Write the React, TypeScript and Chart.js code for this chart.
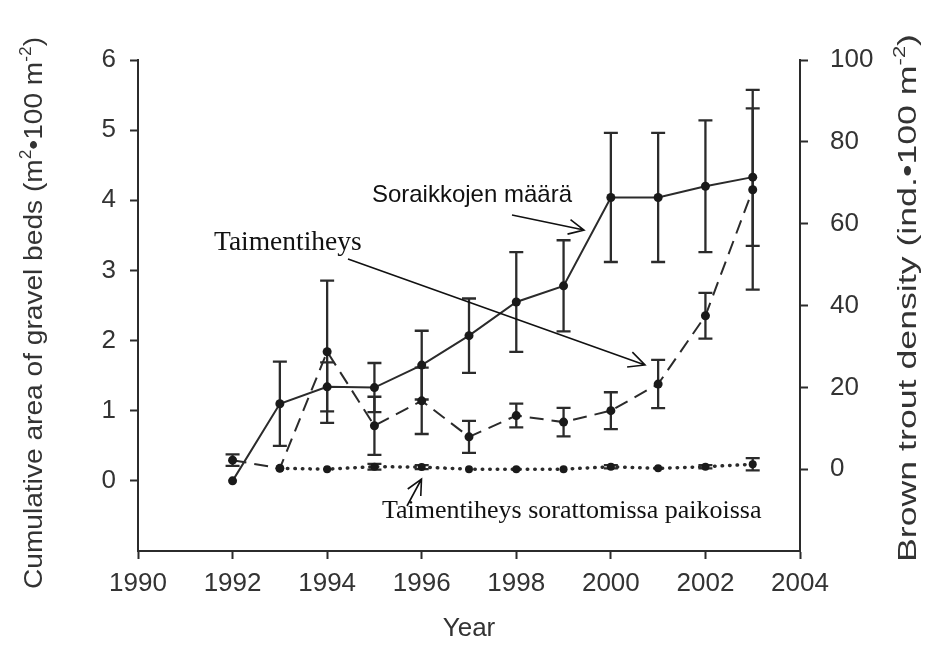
import React, { useEffect, useRef } from "react";
import { Chart, registerables } from "chart.js";

Chart.register(...registerables);

// ---- data ----
const years = [1992, 1993, 1994, 1995, 1996, 1997, 1998, 1999, 2000, 2001, 2002, 2003];
const gravelArea = [0, 1.1, 1.34, 1.33, 1.65, 2.07, 2.55, 2.78, 4.04, 4.04, 4.2, 4.33];
const gravelErr = [0, 0.6, 0.35, 0.35, 0.49, 0.53, 0.71, 0.65, 0.92, 0.92, 0.94, 0.98];
const troutDensity = [2.2, 0.2, 28.7, 10.6, 16.7, 7.9, 13.1, 11.5, 14.3, 20.8, 37.5, 68.3];
const troutErr = [1.4, 0, 17.4, 7.1, 8.1, 3.9, 2.9, 3.5, 4.5, 5.9, 5.6, 24.4];
const noGravelDensity = [null, 0.2, 0, 0.6, 0.5, 0, 0, 0, 0.6, 0.2, 0.6, 1.2];
const noGravelErr = [0, 0, 0, 0.7, 0.5, 0, 0, 0, 0.4, 0, 0.4, 1.5];

// axis titles as [text, isSuperscript] pieces
const leftTitle: [string, boolean][] = [
  ["Cumulative area of gravel beds (m", false],
  ["2", true],
  ["\u2022100 m", false],
  ["-2", true],
  [")", false],
];
const rightTitle: [string, boolean][] = [
  ["Brown trout density (ind.\u2022100 m", false],
  ["-2", true],
  [")", false],
];
const xTitle = "Year";
const labelGravel = "Soraikkojen määrä";
const labelTrout = "Taimentiheys";
const labelNoGravel = "Taimentiheys sorattomissa paikoissa";

const SANS = "'Liberation Sans', Arial, sans-serif";
const SERIF = "'Liberation Serif', 'Times New Roman', serif";
const INK = "#2b2b2b";

const errorBarPlugin = {
  id: "errorBars",
  beforeDatasetsDraw(chart: any) {
    const ctx = chart.ctx;
    const xScale = chart.scales.x;
    chart.data.datasets.forEach((ds: any, i: number) => {
      const meta = chart.getDatasetMeta(i);
      const yScale = chart.scales[meta.yAxisID];
      const errs: number[] = ds.errors || [];
      ds.data.forEach((pt: any, j: number) => {
        const e = errs[j];
        if (!pt || pt.y == null || !e) return;
        const x = xScale.getPixelForValue(pt.x);
        const yTop = yScale.getPixelForValue(pt.y + e);
        const yBot = yScale.getPixelForValue(pt.y - e);
        const cap = 7;
        ctx.save();
        ctx.strokeStyle = INK;
        ctx.lineWidth = 2.3;
        ctx.setLineDash([]);
        ctx.beginPath();
        ctx.moveTo(x, yTop);
        ctx.lineTo(x, yBot);
        ctx.moveTo(x - cap, yTop);
        ctx.lineTo(x + cap, yTop);
        ctx.moveTo(x - cap, yBot);
        ctx.lineTo(x + cap, yBot);
        ctx.stroke();
        ctx.restore();
      });
    });
  },
};

function arrow(ctx: CanvasRenderingContext2D, x1: number, y1: number, x2: number, y2: number, head: number) {
  const a = Math.atan2(y2 - y1, x2 - x1);
  ctx.beginPath();
  ctx.moveTo(x1, y1);
  ctx.lineTo(x2, y2);
  ctx.moveTo(x2 - head * Math.cos(a - 0.45), y2 - head * Math.sin(a - 0.45));
  ctx.lineTo(x2, y2);
  ctx.lineTo(x2 - head * Math.cos(a + 0.45), y2 - head * Math.sin(a + 0.45));
  ctx.stroke();
}

// vertical (bottom-to-top) title with superscripts, stretched to a target length
function drawVerticalTitle(
  ctx: CanvasRenderingContext2D,
  parts: [string, boolean][],
  cx: number,
  cy: number,
  size: number,
  targetLen: number
) {
  const supSize = Math.round(size * 0.62);
  const widths = parts.map(([t, sup]) => {
    ctx.font = `${sup ? supSize : size}px ${SANS}`;
    return ctx.measureText(t).width;
  });
  const total = widths.reduce((a, b) => a + b, 0);
  ctx.save();
  ctx.translate(cx, cy);
  ctx.rotate(-Math.PI / 2);
  ctx.scale(targetLen / total, 1);
  ctx.fillStyle = "#333";
  ctx.textAlign = "left";
  ctx.textBaseline = "alphabetic";
  let x = -total / 2;
  const base = size * 0.36;
  parts.forEach(([t, sup], i) => {
    ctx.font = `${sup ? supSize : size}px ${SANS}`;
    ctx.fillText(t, x, sup ? base - size * 0.42 : base);
    x += widths[i];
  });
  ctx.restore();
}

const annotationPlugin = {
  id: "annotations",
  afterDraw(chart: any) {
    const ctx = chart.ctx as CanvasRenderingContext2D;
    const area = chart.chartArea;
    drawVerticalTitle(ctx, leftTitle, 33, 313, 26, 552);
    drawVerticalTitle(ctx, rightTitle, 907, 298, 26, 528);

    ctx.save();
    ctx.fillStyle = "#111";
    ctx.strokeStyle = "#111";
    ctx.lineWidth = 1.6;
    ctx.setLineDash([]);
    ctx.textBaseline = "alphabetic";

    ctx.font = `24px ${SANS}`;
    ctx.textAlign = "right";
    ctx.fillText(labelGravel, 572, 202);
    arrow(ctx, 512, 215, 584, 230, 17);

    ctx.font = `27.5px ${SERIF}`;
    ctx.textAlign = "left";
    ctx.fillText(labelTrout, 214, 250);
    arrow(ctx, 348, 259, 645, 365, 18);

    ctx.font = `26px ${SERIF}`;
    ctx.fillText(labelNoGravel, 382, 518);
    arrow(ctx, 407, 506, 421.5, 479, 17);
    ctx.restore();
    void area;
  },
};

export default function App() {
  const ref = useRef<HTMLCanvasElement | null>(null);
  useEffect(() => {
    if (!ref.current) return;
    const mk = (vals: (number | null)[]) => years.map((x, i) => ({ x, y: vals[i] }));
    const tickFont = { family: SANS, size: 26 };
    const titleFont = { family: SANS, size: 26 };
    const dropNeg = (s: any) => {
      s.ticks = s.ticks.filter((t: any) => t.value >= 0);
    };
    const chart = new Chart(ref.current, {
      type: "line",
      data: {
        datasets: [
          {
            label: labelGravel,
            data: mk(gravelArea),
            errors: gravelErr,
            yAxisID: "y",
            borderColor: INK,
            borderWidth: 2,
            pointRadius: 4.5,
            pointBackgroundColor: "#1a1a1a",
            pointBorderWidth: 0,
            tension: 0,
          } as any,
          {
            label: labelTrout,
            data: mk(troutDensity),
            errors: troutErr,
            yAxisID: "y1",
            borderColor: INK,
            borderWidth: 2,
            borderDash: [14, 8],
            pointRadius: 4.5,
            pointBackgroundColor: "#1a1a1a",
            pointBorderWidth: 0,
            tension: 0,
          } as any,
          {
            label: labelNoGravel,
            data: mk(noGravelDensity),
            errors: noGravelErr,
            yAxisID: "y1",
            borderColor: INK,
            borderWidth: 3.5,
            borderDash: [0.5, 7],
            borderCapStyle: "round",
            pointRadius: 4,
            pointBackgroundColor: "#1a1a1a",
            pointBorderWidth: 0,
            tension: 0,
            spanGaps: false,
          } as any,
        ],
      },
      options: {
        responsive: false,
        animation: false,
        devicePixelRatio: 1,
        layout: { padding: { top: 60, left: 0, right: 0, bottom: 0 } },
        plugins: { legend: { display: false }, tooltip: { enabled: false } },
        scales: {
          x: {
            type: "linear",
            position: "bottom",
            min: 1990,
            max: 2004,
            ticks: { stepSize: 2, font: tickFont, color: "#333", padding: 9, maxRotation: 0, callback: (v: any) => String(v) },
            grid: { drawOnChartArea: false, drawTicks: true, tickLength: 8, tickWidth: 2, tickColor: INK },
            border: { display: true, color: INK, width: 2 },
            title: { display: true, text: xTitle, font: titleFont, color: "#333", padding: { top: 0, bottom: 3 } },
            afterFit: (s: any) => {
              s.height = 96;
            },
          },
          y: {
            type: "linear",
            position: "left",
            min: -1,
            max: 6,
            afterBuildTicks: dropNeg,
            ticks: { stepSize: 1, font: tickFont, color: "#333", padding: 14 },
            grid: { drawOnChartArea: false, drawTicks: true, tickLength: 8, tickWidth: 2, tickColor: INK },
            border: { display: true, color: INK, width: 2 },
            title: { display: false },
            afterFit: (s: any) => {
              s.width = 138;
            },
          },
          y1: {
            type: "linear",
            position: "right",
            min: -20,
            max: 100,
            afterBuildTicks: dropNeg,
            ticks: { stepSize: 20, font: tickFont, color: "#333", padding: 22 },
            grid: { drawOnChartArea: false, drawTicks: true, tickLength: 8, tickWidth: 2, tickColor: INK },
            border: { display: true, color: INK, width: 2 },
            title: { display: false },
            afterFit: (s: any) => {
              s.width = 126;
            },
          },
        },
      } as any,
      plugins: [errorBarPlugin, annotationPlugin],
    });
    return () => chart.destroy();
  }, []);
  return (
    <div style={{ position: "absolute", left: 0, top: 0, width: 926, height: 647, background: "#fff" }}>
      <canvas ref={ref} width={926} height={647} />
    </div>
  );
}
